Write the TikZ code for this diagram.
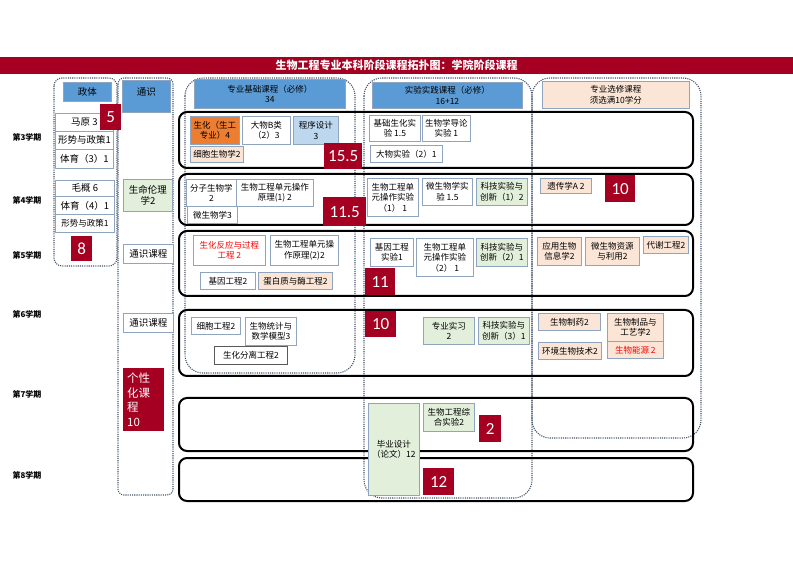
\documentclass[tikz,border=0pt]{standalone}
\usepackage{fontspec}
\newfontfamily\cjk{Noto Sans CJK SC}
\newfontfamily\numfont{Carlito}
\definecolor{deepred}{HTML}{A50021}
\definecolor{headblue}{HTML}{5B9BD5}
\definecolor{boxline}{HTML}{8EA4BF}
\definecolor{peach}{HTML}{FBE5D6}
\definecolor{paleg}{HTML}{E2EFDA}
\definecolor{paleblue}{HTML}{BDD7EE}
\definecolor{orangefill}{HTML}{ED7D31}
\definecolor{dotblue}{HTML}{44546A}
\definecolor{redtext}{HTML}{FF0000}

\begin{document}
\begin{tikzpicture}[x=1pt, y=-1pt,
    course/.style={draw=boxline, line width=0.8pt, fill=white, inner sep=0.5pt, align=center, anchor=north west, font=\cjk\fontsize{8.5}{10.5}\selectfont},
    bigtext/.style={font=\cjk\fontsize{9.5}{11.5}\selectfont},
    header/.style={course, fill=headblue},
    elective/.style={course, fill=peach},
    lab/.style={course, fill=paleg},
    credit/.style={fill=deepred, text=white, inner sep=0pt, anchor=north west, font=\numfont\fontsize{17}{17}\selectfont},
    term/.style={font=\cjk\bfseries\fontsize{8}{9}\selectfont, anchor=west},
    colgroup/.style={draw=dotblue, line width=1.1pt, dash pattern=on 1.1pt off 1.1pt, rounded corners=#1},
    colgroup/.default=15,
    semester/.style={draw=black, line width=2pt, rounded corners=8}]
    \fill[white] (0,0) rectangle (793,561);
    \useasboundingbox (0,0) rectangle (793,561);

    % title bar
    \node[fill=deepred, text=white, anchor=north west, inner sep=0pt, minimum width=793, minimum height=17, font=\cjk\bfseries\fontsize{11}{12}\selectfont] (title) at (0,57) {生物工程专业本科阶段课程拓扑图：学院阶段课程};

    % semester labels
    \node[term] (t3) at (9,137) {第3学期};
    \node[term] (t4) at (9,200) {第4学期};
    \node[term] (t5) at (9,255) {第5学期};
    \node[term] (t6) at (9,314) {第6学期};
    \node[term] (t7) at (9,394) {第7学期};
    \node[term] (t8) at (9,475) {第8学期};

    % dotted column groups
    \draw[colgroup=8] (54,78) rectangle (117,266);
    \draw[colgroup=6] (118,78) rectangle (173,495);
    \draw[colgroup=18] (185,78) rectangle (355,373);
    \draw[colgroup=18] (364,78) rectangle (532,498);
    \draw[colgroup=18] (532,78) rectangle (701,438);

    % semester rows
    \draw[semester] (179,112) rectangle (693,168);
    \draw[semester] (179,174) rectangle (693,225);
    \draw[semester] (179,231) rectangle (693,296);
    \draw[semester] (179,310) rectangle (693,376);
    \draw[semester] (179,398) rectangle (693,451);
    \draw[semester] (179,458) rectangle (693,501);

    % politics column
    \node[header, bigtext, minimum width=48, minimum height=19] (zhengti) at (63,82) {政体};
    \node[course, bigtext, minimum width=58, minimum height=18] (mayuan) at (55,113) {马原 3};
    \node[course, bigtext, minimum width=58, minimum height=18] (xingshi1) at (55,131) {形势与政策1};
    \node[course, bigtext, minimum width=58, minimum height=19] (tiyu3) at (55,149) {体育（3）1};
    \node[course, bigtext, minimum width=59, minimum height=16] (maogai) at (55,180) {毛概 6};
    \node[course, bigtext, minimum width=59, minimum height=18] (tiyu4) at (55,196) {体育（4）1};
    \node[course, minimum width=59, minimum height=18] (xingshi2) at (55,214) {形势与政策1};
    \node[credit, minimum width=21, minimum height=26] (num5) at (100,104) {5};
    \node[credit, minimum width=21, minimum height=25] (num8) at (71,236) {8};

    % general education column
    \node[header, bigtext, text depth=10pt, minimum width=48, minimum height=32] (tongshi) at (122,80) {通识};
    \node[lab, bigtext, minimum width=49, minimum height=32] (lunli) at (123,179) {生命伦理\\学2};
    \node[course, bigtext, minimum width=50, minimum height=19] (tongke5) at (123,244) {通识课程};
    \node[course, bigtext, minimum width=50, minimum height=19] (tongke6) at (123,313) {通识课程};
    \node[fill=deepred, text=white, anchor=north west, inner xsep=4pt, inner ysep=2pt, text width=33, align=left, minimum height=63, font=\cjk\fontsize{11.5}{14.5}\selectfont] (gexing) at (123,368) {个性\\化课\\程\\10};

    % basic courses column
    \node[header, minimum width=151, minimum height=29] (zhuanji) at (194,79) {专业基础课程（必修）\\34};
    \node[course, fill=orangefill, minimum width=49, minimum height=28] (shenghua) at (190,116) {生化（生工\\专业）4};
    \node[course, minimum width=48, minimum height=28] (dawu) at (242,116) {大物B类\\（2）3};
    \node[course, fill=paleblue, minimum width=45, minimum height=28] (chengxu) at (293,116) {程序设计\\3};
    \node[elective, minimum width=53, minimum height=16] (xibao) at (190,146) {细胞生物学2};
    \node[credit, minimum width=38, minimum height=26] (num155) at (324,143) {15.5};
    \node[course, minimum width=50, minimum height=27] (fenzi) at (186,179) {分子生物学\\2};
    \node[course, minimum width=77, minimum height=27] (yuanli1) at (236,179) {生物工程单元操作\\原理(1) 2};
    \node[course, minimum width=50, minimum height=17] (weisheng) at (187,206) {微生物学3};
    \node[credit, minimum width=43, minimum height=29] (num115) at (323,197) {11.5};
    \node[course, text=redtext, minimum width=72, minimum height=30] (fanying) at (193,235) {生化反应与过程\\工程 2};
    \node[course, minimum width=68, minimum height=30] (yuanli2) at (270,235) {生物工程单元操\\作原理(2)2};
    \node[course, minimum width=55, minimum height=17] (jiyin) at (200,272) {基因工程2};
    \node[elective, minimum width=74, minimum height=17] (danbai) at (258,272) {蛋白质与酶工程2};
    \node[course, minimum width=49, minimum height=17] (xibaogc) at (191,317) {细胞工程2};
    \node[course, minimum width=51, minimum height=28] (tongji) at (245,317) {生物统计与\\数学模型3};
    \node[course, draw=gray!70!black, minimum width=73, minimum height=18] (fenli) at (214,346) {生化分离工程2};

    % lab courses column
    \node[header, minimum width=150, minimum height=26] (shiyan) at (372,82) {实验实践课程（必修）\\16+12};
    \node[course, minimum width=51, minimum height=26] (jichu) at (369,115) {基础生化实\\验 1.5};
    \node[course, minimum width=48, minimum height=26] (daolun) at (422,115) {生物学导论\\实验 1};
    \node[course, minimum width=72, minimum height=17] (dawusy) at (370,145) {大物实验（2）1};
    \node[course, minimum width=51, minimum height=38] (caozuo1) at (367,178) {生物工程单\\元操作实验\\（1）\ 1};
    \node[course, minimum width=50, minimum height=27] (weishengsy) at (422,178) {微生物学实\\验 1.5};
    \node[lab, minimum width=51, minimum height=27] (chuangxin1) at (476,178) {科技实验与\\创新（1）2};
    \node[course, minimum width=43, minimum height=28] (jiyinsy) at (370,238) {基因工程\\实验1};
    \node[course, minimum width=57, minimum height=38] (caozuo2) at (416,238) {生物工程单\\元操作实验\\（2）\ 1};
    \node[lab, minimum width=51, minimum height=28] (chuangxin2) at (476,238) {科技实验与\\创新（2）1};
    \node[credit, minimum width=30, minimum height=27] (num11) at (365,268) {11};
    \node[credit, minimum width=31, minimum height=26] (num10b) at (365,311) {10};
    \node[lab, minimum width=51, minimum height=27] (shixi) at (423,317) {专业实习\\2};
    \node[lab, minimum width=51, minimum height=27] (chuangxin3) at (478,317) {科技实验与\\创新（3）1};
    \node[lab, minimum width=51, minimum height=92] (biye) at (368,403) {毕业设计\\（论文）12};
    \node[lab, minimum width=51, minimum height=28] (zonghe) at (423,403) {生物工程综\\合实验2};
    \node[credit, minimum width=22, minimum height=27] (num2) at (479,415) {2};
    \node[credit, minimum width=31, minimum height=27] (num12) at (423,468) {12};

    % elective column
    \node[elective, minimum width=147, minimum height=27] (xuanxiu) at (542,81) {专业选修课程\\须选满10学分};
    \node[elective, minimum width=51, minimum height=15] (yichuan) at (540,178) {遗传学A 2};
    \node[credit, minimum width=30, minimum height=27] (num10a) at (605,175) {10};
    \node[elective, minimum width=44, minimum height=28] (xinxi) at (537,237) {应用生物\\信息学2};
    \node[elective, minimum width=54, minimum height=28] (ziyuan) at (585,237) {微生物资源\\与利用2};
    \node[elective, minimum width=45, minimum height=17] (daixie) at (643,236) {代谢工程2};
    \node[elective, minimum width=62, minimum height=17] (zhiyao) at (538,313) {生物制药2};
    \node[elective, minimum width=56, minimum height=28] (zhipin) at (607,313) {生物制品与\\工艺学2};
    \node[elective, minimum width=63, minimum height=17] (huanjing) at (538,342) {环境生物技术2};
    \node[elective, text=redtext, minimum width=56, minimum height=17] (nengyuan) at (607,341) {生物能源 2};
\end{tikzpicture}
\end{document}
